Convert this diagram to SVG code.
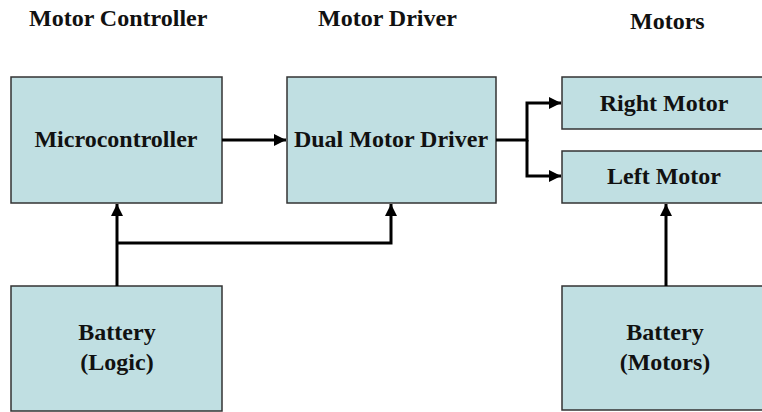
<svg xmlns="http://www.w3.org/2000/svg" width="762" height="412" viewBox="0 0 762 412">
<style>
.box{fill:#c0dfe2;stroke:#333;stroke-width:1.5}
.t{font-family:"Liberation Serif","Times New Roman",serif;font-weight:bold;font-size:24px;fill:#111;text-anchor:middle}
.h{font-family:"Liberation Serif","Times New Roman",serif;font-weight:bold;font-size:24px;fill:#111}
.c{fill:none;stroke:#000;stroke-width:3}
</style>
<defs>
<marker id="ah" viewBox="0 0 10 10" refX="10" refY="5" markerWidth="4" markerHeight="4" markerUnits="strokeWidth" orient="auto">
<path d="M0,0 L10,5 L0,10 z" fill="#000"/>
</marker>
</defs>
<rect width="762" height="412" fill="#fff"/>
<g id="titles">
<text class="h" x="29" y="26">Motor Controller</text>
<text class="h" x="318" y="26">Motor Driver</text>
<text class="h" x="630" y="29">Motors</text>
</g>
<g id="microcontroller">
<rect class="box" x="11" y="77" width="211" height="126"/>
<text class="t" x="116" y="147">Microcontroller</text>
</g>
<g id="driver">
<rect class="box" x="287" y="77" width="209" height="126"/>
<text class="t" x="391" y="147">Dual Motor Driver</text>
</g>
<g id="right-motor">
<rect class="box" x="562" y="77" width="210" height="52"/>
<text class="t" x="664" y="111">Right Motor</text>
</g>
<g id="left-motor">
<rect class="box" x="562" y="151" width="210" height="52"/>
<text class="t" x="664" y="184">Left Motor</text>
</g>
<g id="battery-logic">
<rect class="box" x="11" y="286" width="211" height="125"/>
<text class="t" x="117" y="340">Battery</text>
<text class="t" x="117" y="370">(Logic)</text>
</g>
<g id="battery-motors">
<rect class="box" x="562" y="286" width="210" height="124"/>
<text class="t" x="665" y="340">Battery</text>
<text class="t" x="665" y="370">(Motors)</text>
</g>
<g id="connectors">
<path class="c" d="M222,140 H286" marker-end="url(#ah)"/>
<path class="c" d="M496,140 H527 V103 H561" marker-end="url(#ah)"/>
<path class="c" d="M527,140 V176 H561" marker-end="url(#ah)"/>
<path class="c" d="M117,286 V204" marker-end="url(#ah)"/>
<path class="c" d="M117,243 H391 V204" marker-end="url(#ah)"/>
<path class="c" d="M666,286 V204" marker-end="url(#ah)"/>
</g>
</svg>
